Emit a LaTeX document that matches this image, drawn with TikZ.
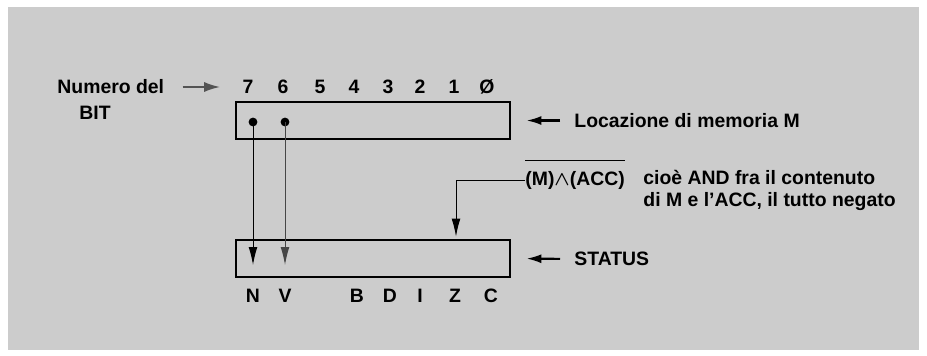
\documentclass[tikz,border=0pt]{standalone}
\usepackage{fontspec}
\setmainfont{Liberation Sans}
\usetikzlibrary{arrows.meta,positioning}
\definecolor{panel}{RGB}{204,204,204}

\begin{document}
\begin{tikzpicture}[
    x=0.5pt, y=-0.5pt,
    >={Latex[length=9pt,width=4.4pt]},
    every node/.style={
        font=\bfseries\fontsize{9.7}{11}\selectfont,
        inner sep=0pt
    },
    register/.style={
        rectangle,
        draw,
        line width=1.4pt,
        minimum width=137pt,
        minimum height=18.5pt
    },
    line/.style={draw, ->, line width=0.5pt},
    labelarrow/.style={draw, -{Latex[length=7.5pt,width=4.5pt]}, line width=1.1pt}
]

% Background
\useasboundingbox (0,0) rectangle (927,355);
\fill[white] (0,0) rectangle (927,355);
\fill[panel] (8,7) rectangle (919,350);

% Registers
\node[register] (mem) at (373,120.5) {};
\node[register] (status) at (373,258.5) {};

% Bit numbers
\foreach \b/\x [count=\i] in {7/248,6/283,5/320,4/354,3/388,2/420,1/454,Ø/487}
    \node (b\i) at (\x,87) {\b};

% Status flags
\foreach \f/\x in {N/253,V/285,B/357,D/390,I/420,Z/455,C/491}
    \node (f\f) at (\x,296) {\f};

% Left labels
\node[anchor=west] (numero) at (57,87) {Numero del};
\node (bitlbl) at (95,113) {BIT};
\draw[-{Latex[length=8pt,width=5pt]}, line width=1pt, gray!65!black,
      shorten <=9pt, shorten >=11pt] (numero.east) -- (b1.west);

% Right labels
\node[anchor=west] (loc) at (574,120.5) {Locazione di memoria M};
\node[anchor=west] (stat) at (574,259) {STATUS};
\draw[labelarrow, shorten <=7pt, shorten >=7.5pt] (loc.west) -- (mem.east);
\draw[labelarrow, shorten <=7pt, shorten >=7.5pt] (stat.west) -- (status.east);

% Negated AND
\node[anchor=west] (expr) at (525,180) {(M){\boldmath$\wedge$}(ACC)};
\draw[line width=0.7pt] ([yshift=5pt]expr.north west) -- ([yshift=5pt]expr.north east);
\node[anchor=north west, align=left] (desc) at (643,170)
    {cioè AND fra il contenuto\\di M e l'ACC, il tutto negato};
\draw[line] (expr.west) -| ([xshift=41.5pt,yshift=1pt]status.north);

% Bits 7 and 6 copied into N and V
\coordinate (d7) at (253,122);
\coordinate (d6) at (285,122);
\fill (d7) circle (2.2pt);
\fill (d6) circle (2.2pt);
\draw[line] (d7) -- ++(0,143);
\draw[line, gray!55!black] (d6) -- ++(0,143);

\end{tikzpicture}
\end{document}
